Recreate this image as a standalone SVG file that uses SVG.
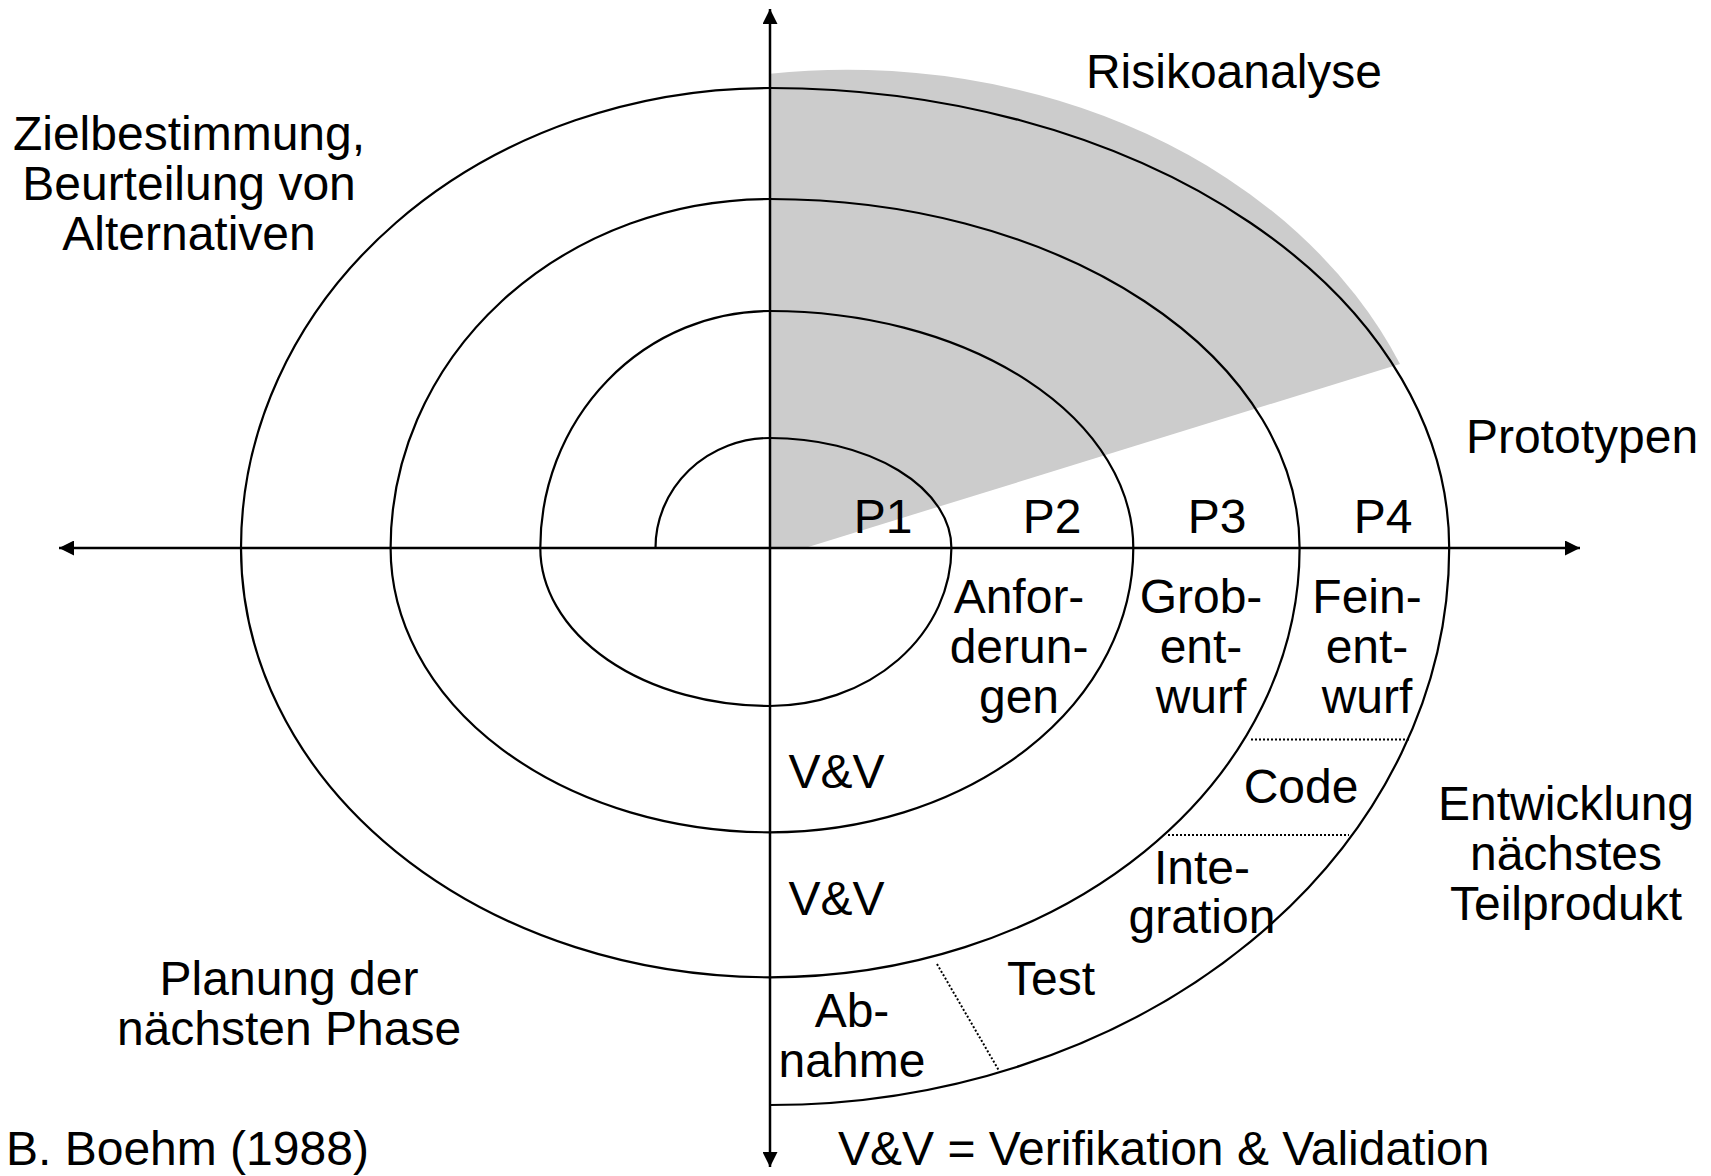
<svg xmlns="http://www.w3.org/2000/svg" width="1711" height="1176" viewBox="0 0 1711 1176">
<style>
text{font-family:"Liberation Sans",Arial,sans-serif;font-size:48px;fill:#000}
.m{text-anchor:middle}
.ax{stroke:#000;stroke-width:2.5;fill:none}
.sp{stroke:#000;stroke-width:2.2;fill:none}
.dot{stroke:#000;stroke-width:2;stroke-dasharray:2 2;fill:none}
</style>
<defs>
<marker id="ah" viewBox="0 0 10 10" refX="10" refY="5" markerWidth="6" markerHeight="6" markerUnits="strokeWidth" orient="auto">
<path d="M0,0 L10,5 L0,10 Z" fill="#000"/>
</marker>
</defs>
<rect width="1711" height="1176" fill="#fff"/>
<g id="risk-area">
<path d="M770,73.8 A599 478 0 0 1 1400,364 L805,548 L770,548 Z" fill="#cccccc"/>
</g>
<g id="connectors">
<path class="sp" d="M655.5,548 A114.5 110 0 0 1 770,438 A181.4 110 0 0 1 951.4,548 A181.4 158 0 0 1 770,706 A229.7 158 0 0 1 540.3,548 A229.7 237 0 0 1 770,311 A363.3 237 0 0 1 1133.3,548 A363.3 284.3 0 0 1 770,832.3 A379.4 284.3 0 0 1 390.6,548 A379.4 349 0 0 1 770,199 A529.6 349 0 0 1 1299.6,548 A529.6 429.3 0 0 1 770,977.3 A529 429.3 0 0 1 241,548 A529 460 0 0 1 770,88 A679.2 460 0 0 1 1449.2,548 A679.2 557 0 0 1 770,1105"/>
<line class="ax" x1="770" y1="548" x2="770" y2="9" marker-end="url(#ah)"/>
<line class="ax" x1="770" y1="548" x2="770" y2="1167" marker-end="url(#ah)"/>
<line class="ax" x1="770" y1="548" x2="59" y2="548" marker-end="url(#ah)"/>
<line class="ax" x1="770" y1="548" x2="1580" y2="548" marker-end="url(#ah)"/>
<line class="dot" x1="1251" y1="739.5" x2="1410" y2="739.5"/>
<line class="dot" x1="1168" y1="835" x2="1349" y2="835"/>
<line class="dot" x1="937" y1="964" x2="998.6" y2="1070"/>
</g>
<g id="label-ziel"><text class="m" x="189" y="150">Zielbestimmung,</text><text class="m" x="189" y="200">Beurteilung von</text><text class="m" x="189" y="250">Alternativen</text></g>
<g id="label-risiko"><text class="m" x="1234" y="88">Risikoanalyse</text></g>
<g id="label-proto"><text class="m" x="1582" y="453">Prototypen</text></g>
<g id="label-p"><text class="m" x="883" y="533">P1</text><text class="m" x="1052" y="533">P2</text><text class="m" x="1217" y="533">P3</text><text class="m" x="1383" y="533">P4</text></g>
<g id="label-anf"><text class="m" x="1019" y="613">Anfor-</text><text class="m" x="1019" y="663">derun-</text><text class="m" x="1019" y="713">gen</text></g>
<g id="label-grob"><text class="m" x="1201" y="613">Grob-</text><text class="m" x="1201" y="663">ent-</text><text class="m" x="1201" y="713">wurf</text></g>
<g id="label-fein"><text class="m" x="1367" y="613">Fein-</text><text class="m" x="1367" y="663">ent-</text><text class="m" x="1367" y="713">wurf</text></g>
<g id="label-code"><text class="m" x="1301" y="803">Code</text></g>
<g id="label-integration"><text class="m" x="1202" y="884">Inte-</text><text class="m" x="1202" y="933">gration</text></g>
<g id="label-test"><text class="m" x="1051" y="995">Test</text></g>
<g id="label-vv1"><text class="m" x="836.5" y="788">V&amp;V</text></g>
<g id="label-vv2"><text class="m" x="836.5" y="915">V&amp;V</text></g>
<g id="label-abnahme"><text class="m" x="852" y="1027">Ab-</text><text class="m" x="852" y="1077">nahme</text></g>
<g id="label-entw"><text class="m" x="1566" y="820">Entwicklung</text><text class="m" x="1566" y="870">nächstes</text><text class="m" x="1566" y="920">Teilprodukt</text></g>
<g id="label-planung"><text class="m" x="289" y="995">Planung der</text><text class="m" x="289" y="1045">nächsten Phase</text></g>
<g id="label-boehm"><text x="6" y="1165">B. Boehm (1988)</text></g>
<g id="label-legend"><text x="838" y="1165">V&amp;V = Verifikation &amp; Validation</text></g>
</svg>
